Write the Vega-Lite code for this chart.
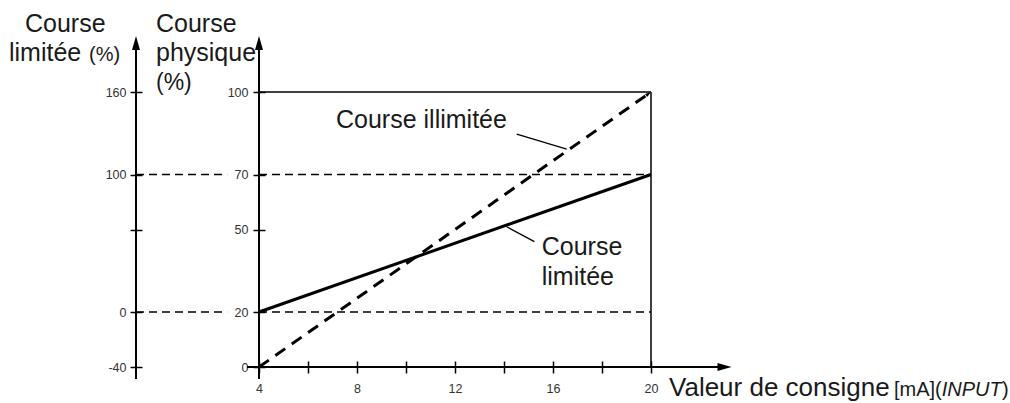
{
  "$schema": "https://vega.github.io/schema/vega-lite/v6.json",
  "width": 392,
  "height": 275,
  "autosize": {"type": "none"},
  "padding": {"left": 259, "top": 92, "right": 359, "bottom": 36},
  "background": "white",
  "config": {"view": {"stroke": null}, "font": "Liberation Sans",
    "axis": {"grid": false, "domain": false, "tickSize": 12, "tickWidth": 1.5, "tickColor": "black",
      "labelFont": "Liberation Sans", "labelFontSize": 12.5, "labelColor": "#333",
      "labelFlush": false, "labelOverlap": false, "title": null}},
  "datasets": {
    "lines": [
      {"kind": "unl", "x": 4, "y": 0, "x2": 20, "y2": 100},
      {"kind": "lim", "x": 4, "y": 20, "x2": 20, "y2": 70},
      {"kind": "box", "x": 4, "y": 100, "x2": 20, "y2": 100},
      {"kind": "box", "x": 20, "y": 0, "x2": 20, "y2": 100},
      {"kind": "axis", "x": 4, "y": -4.36, "x2": 4, "y2": 117},
      {"kind": "axis", "x": -1.02, "y": -4.36, "x2": -1.02, "y2": 117},
      {"kind": "axis", "x": 3.51, "y": 0, "x2": 22.8, "y2": 0},
      {"kind": "leader", "x": 14.52, "y": 84.7, "x2": 16.56, "y2": 79.2},
      {"kind": "leader", "x": 14.11, "y": 51.0, "x2": 15.24, "y2": 45.6}
    ],
    "limlines": [
      {"x": -1.02, "x2": 2.7, "lim": 0},
      {"x": 4, "x2": 20, "lim": 0},
      {"x": -1.02, "x2": 2.7, "lim": 100},
      {"x": 4, "x2": 20, "lim": 100}
    ],
    "arrows": [
      {"dir": "up", "x": 4, "y": 117.8},
      {"dir": "up", "x": -1.02, "y": 117.8},
      {"dir": "right", "x": 23.0, "y": 0},
      {"dir": "diag", "x": 19.9, "y": 99.37}
    ],
    "texts": [
      {"g": "big", "t": "Course", "x": -5.551, "y": 121.82},
      {"g": "big", "t": "limitée", "x": -6.204, "y": 111.27},
      {"g": "small", "t": "(%)", "x": -2.939, "y": 111.27},
      {"g": "big", "t": "Course", "x": -0.204, "y": 121.82},
      {"g": "big", "t": "physique", "x": -0.204, "y": 111.27},
      {"g": "mid", "t": "(%)", "x": -0.204, "y": 100.7},
      {"g": "big", "t": "Course illimitée", "x": 7.143, "y": 86.9},
      {"g": "big", "t": "Course", "x": 15.539, "y": 40.73},
      {"g": "big", "t": "limitée", "x": 15.539, "y": 29.82},
      {"g": "wide", "t": "Valeur de consigne", "x": 20.735, "y": -10.55},
      {"g": "small", "t": "[mA]", "x": 29.92, "y": -10.55},
      {"g": "small", "t": "(", "x": 31.59, "y": -10.55},
      {"g": "smallit", "t": "INPUT", "x": 31.866, "y": -10.55},
      {"g": "small", "t": ")", "x": 34.33, "y": -10.55}
    ]
  },
  "layer": [
    {
      "layer": [
        {
          "data": {"name": "lines"},
          "transform": [{"filter": "datum.kind === 'unl'"}],
          "mark": {"type": "rule", "color": "black", "strokeWidth": 3, "strokeDash": [12, 8]},
          "encoding": {
            "x": {"field": "x", "type": "quantitative", "scale": {"domain": [4, 20], "nice": false, "zero": false},
              "axis": {"orient": "bottom", "offset": -6, "values": [4, 6, 8, 10, 12, 14, 16, 18, 20],
                "labelExpr": "datum.value % 4 === 0 ? '' + datum.value : ''", "labelPadding": 9, "title": null}},
            "x2": {"field": "x2"},
            "y": {"field": "y", "type": "quantitative", "scale": {"domain": [0, 100], "nice": false, "zero": false},
              "axis": {"orient": "left", "offset": -6, "values": [0, 20, 50, 70, 100],
                "labelExpr": "'' + datum.value", "labelPadding": 5, "title": null}},
            "y2": {"field": "y2"}
          }
        },
        {
          "data": {"name": "lines"},
          "transform": [{"filter": "datum.kind === 'lim'"}],
          "mark": {"type": "rule", "color": "black", "strokeWidth": 3},
          "encoding": {
            "x": {"field": "x", "type": "quantitative", "axis": {"title": null}},
            "x2": {"field": "x2"},
            "y": {"field": "y", "type": "quantitative", "axis": {"title": null}},
            "y2": {"field": "y2"}
          }
        },
        {
          "data": {"name": "lines"},
          "transform": [{"filter": "datum.kind === 'box'"}],
          "mark": {"type": "rule", "color": "black", "strokeWidth": 1.5},
          "encoding": {
            "x": {"field": "x", "type": "quantitative", "axis": {"title": null}},
            "x2": {"field": "x2"},
            "y": {"field": "y", "type": "quantitative", "axis": {"title": null}},
            "y2": {"field": "y2"}
          }
        },
        {
          "data": {"name": "lines"},
          "transform": [{"filter": "datum.kind === 'axis'"}],
          "mark": {"type": "rule", "color": "black", "strokeWidth": 2},
          "encoding": {
            "x": {"field": "x", "type": "quantitative", "axis": {"title": null}},
            "x2": {"field": "x2"},
            "y": {"field": "y", "type": "quantitative", "axis": {"title": null}},
            "y2": {"field": "y2"}
          }
        },
        {
          "data": {"name": "lines"},
          "transform": [{"filter": "datum.kind === 'leader'"}],
          "mark": {"type": "rule", "color": "black", "strokeWidth": 1.3},
          "encoding": {
            "x": {"field": "x", "type": "quantitative", "axis": {"title": null}},
            "x2": {"field": "x2"},
            "y": {"field": "y", "type": "quantitative", "axis": {"title": null}},
            "y2": {"field": "y2"}
          }
        },
        {
          "data": {"name": "arrows"},
          "transform": [{"filter": "datum.dir === 'up'"}],
          "mark": {"type": "point", "shape": "M0,-1L0.57,1L-0.57,1Z", "filled": true, "size": 196, "color": "black", "opacity": 1, "strokeWidth": 0},
          "encoding": {
            "x": {"field": "x", "type": "quantitative", "axis": {"title": null}},
            "y": {"field": "y", "type": "quantitative", "axis": {"title": null}}
          }
        },
        {
          "data": {"name": "arrows"},
          "transform": [{"filter": "datum.dir === 'right'"}],
          "mark": {"type": "point", "shape": "M1,0L-1,-0.57L-1,0.57Z", "filled": true, "size": 196, "color": "black", "opacity": 1, "strokeWidth": 0},
          "encoding": {
            "x": {"field": "x", "type": "quantitative", "axis": {"title": null}},
            "y": {"field": "y", "type": "quantitative", "axis": {"title": null}}
          }
        },
        {
          "data": {"name": "arrows"},
          "transform": [{"filter": "datum.dir === 'diag'"}],
          "mark": {"type": "point", "shape": "M1,0L-1,-0.6L-1,0.6Z", "filled": true, "size": 36, "angle": -35, "color": "black", "opacity": 1, "strokeWidth": 0},
          "encoding": {
            "x": {"field": "x", "type": "quantitative", "axis": {"title": null}},
            "y": {"field": "y", "type": "quantitative", "axis": {"title": null}}
          }
        },
        {
          "data": {"name": "texts"},
          "transform": [{"filter": "datum.g === 'big'"}],
          "mark": {"type": "text", "align": "left", "baseline": "alphabetic", "fontSize": 25, "font": "Liberation Sans", "color": "#1a1a1a"},
          "encoding": {
            "x": {"field": "x", "type": "quantitative", "axis": {"title": null}},
            "y": {"field": "y", "type": "quantitative", "axis": {"title": null}},
            "text": {"field": "t"}
          }
        },
        {
          "data": {"name": "texts"},
          "transform": [{"filter": "datum.g === 'wide'"}],
          "mark": {"type": "text", "align": "left", "baseline": "alphabetic", "fontSize": 26, "font": "Liberation Sans", "color": "#1a1a1a"},
          "encoding": {
            "x": {"field": "x", "type": "quantitative", "axis": {"title": null}},
            "y": {"field": "y", "type": "quantitative", "axis": {"title": null}},
            "text": {"field": "t"}
          }
        },
        {
          "data": {"name": "texts"},
          "transform": [{"filter": "datum.g === 'mid'"}],
          "mark": {"type": "text", "align": "left", "baseline": "alphabetic", "fontSize": 23, "font": "Liberation Sans", "color": "#1a1a1a"},
          "encoding": {
            "x": {"field": "x", "type": "quantitative", "axis": {"title": null}},
            "y": {"field": "y", "type": "quantitative", "axis": {"title": null}},
            "text": {"field": "t"}
          }
        },
        {
          "data": {"name": "texts"},
          "transform": [{"filter": "datum.g === 'small'"}],
          "mark": {"type": "text", "align": "left", "baseline": "alphabetic", "fontSize": 20, "font": "Liberation Sans", "color": "#1a1a1a"},
          "encoding": {
            "x": {"field": "x", "type": "quantitative", "axis": {"title": null}},
            "y": {"field": "y", "type": "quantitative", "axis": {"title": null}},
            "text": {"field": "t"}
          }
        },
        {
          "data": {"name": "texts"},
          "transform": [{"filter": "datum.g === 'smallit'"}],
          "mark": {"type": "text", "align": "left", "baseline": "alphabetic", "fontSize": 20, "fontStyle": "italic", "font": "Liberation Sans", "color": "#1a1a1a"},
          "encoding": {
            "x": {"field": "x", "type": "quantitative", "axis": {"title": null}},
            "y": {"field": "y", "type": "quantitative", "axis": {"title": null}},
            "text": {"field": "t"}
          }
        }
      ]
    },
    {
      "data": {"name": "limlines"},
      "mark": {"type": "rule", "color": "black", "strokeWidth": 1.5, "strokeDash": [8, 5]},
      "encoding": {
        "x": {"field": "x", "type": "quantitative", "axis": {"title": null}},
        "x2": {"field": "x2"},
        "y": {"field": "lim", "type": "quantitative", "scale": {"domain": [-40, 160], "nice": false, "zero": false},
          "axis": {"orient": "left", "offset": 117, "values": [-40, 0, 60, 100, 160],
            "labelExpr": "datum.value === 60 ? '' : '' + datum.value", "labelPadding": 4, "title": null}}
      }
    }
  ],
  "resolve": {"scale": {"y": "independent"}, "axis": {"y": "independent"}}
}
